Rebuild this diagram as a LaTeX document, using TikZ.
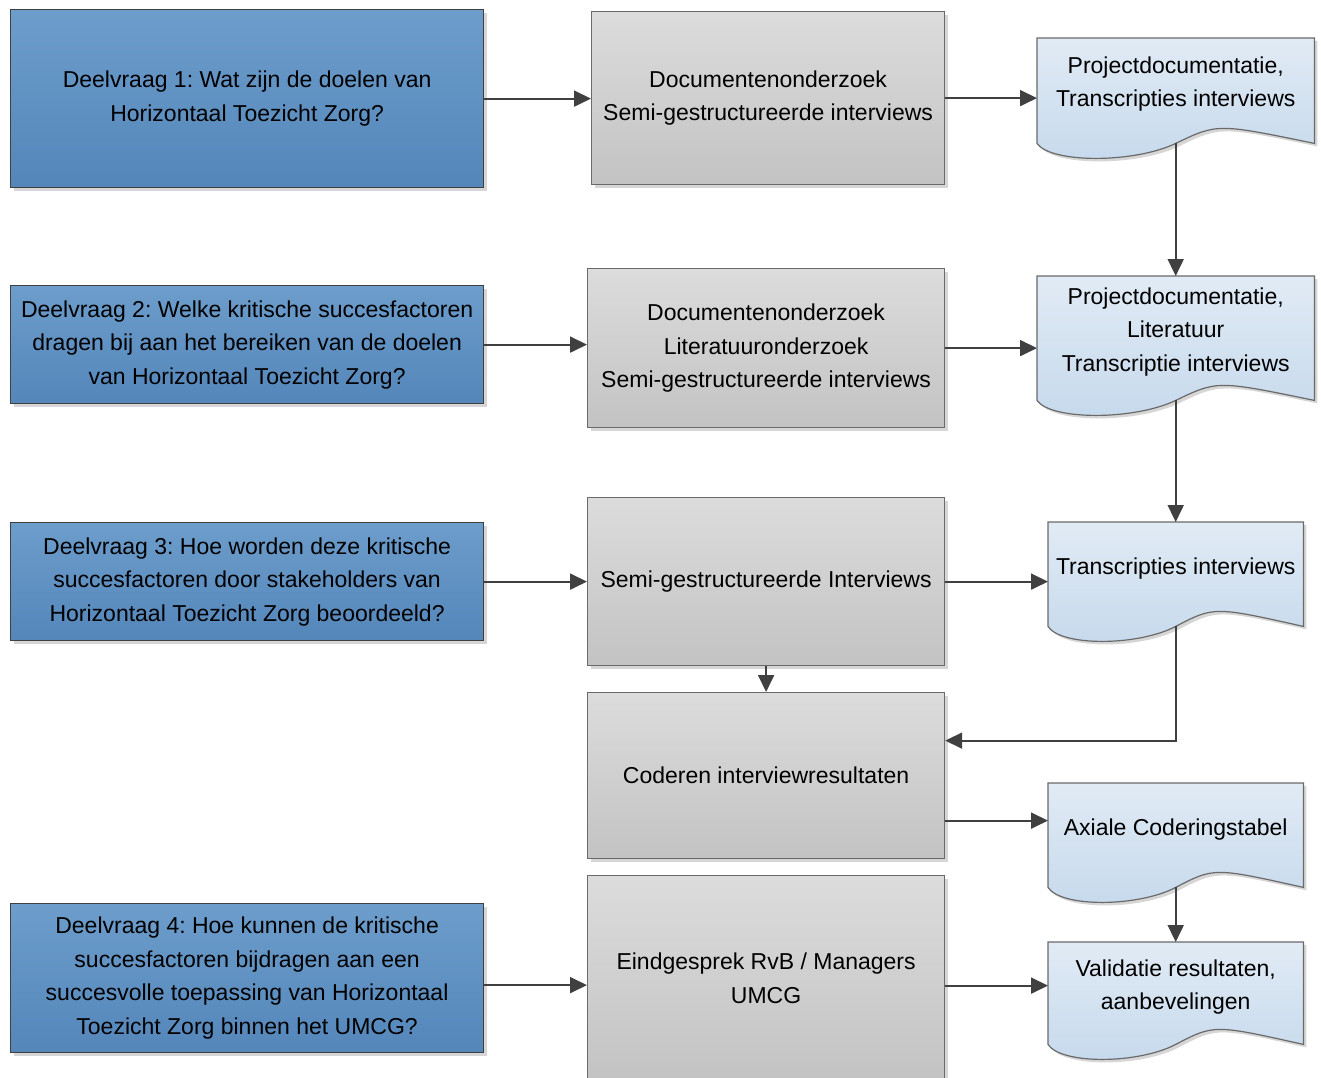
\documentclass[tikz,border=0pt]{standalone}
\usepackage{fontspec}
\setmainfont{Liberation Sans}
\frenchspacing
\usetikzlibrary{arrows.meta,calc,shadows}
\definecolor{bluetop}{HTML}{6C9DCB}
\definecolor{bluebot}{HTML}{5486BA}
\definecolor{graytop}{HTML}{DCDCDC}
\definecolor{graybot}{HTML}{C3C3C3}
\definecolor{doctop}{HTML}{E1EBF5}
\definecolor{docbot}{HTML}{C6D9EC}
\definecolor{edge}{HTML}{404040}
\definecolor{grayedge}{HTML}{6A6A6A}
\definecolor{shad}{HTML}{D6D6D6}
\tikzset{
  txt/.style={font=\fontsize{23}{33.5}\selectfont, align=center, text=black},
  box/.style={rectangle, inner sep=0pt, anchor=north west, txt,
    drop shadow={shadow xshift=3pt, shadow yshift=-3pt, fill=shad, opacity=1}},
  bluebox/.style={box, top color=bluetop, bottom color=bluebot, draw=edge, line width=1.2pt},
  graybox/.style={box, top color=graytop, bottom color=graybot, draw=grayedge, line width=1.2pt},
  docbody/.style={rectangle, inner sep=0pt, anchor=north west, draw=none},
  doctext/.style={txt, inner sep=0pt},
  docshape/.style={top color=doctop, bottom color=docbot, draw=grayedge, line width=1.2pt,
    preaction={fill=shad, transform canvas={shift={(3pt,-3pt)}}}},
  arr/.style={-{Triangle[length=17pt,width=16pt]}, draw=edge, line width=1.8pt},
}
\newcommand\docwave[1]{%
  \path[docshape] (#1.north west) -- (#1.north east) -- (#1.south east)
    .. controls ($(#1.south)!0.3!(#1.south east)+(0,-20)$) and ($(#1.south)!0.3!(#1.south east)+(0,-20)$) .. (#1.south)
    .. controls ($(#1.south)!0.3!(#1.south west)+(0,20)$) and ($(#1.south)!0.9!(#1.south west)+(0,20)$) .. (#1.south west)
    -- cycle;}
\begin{document}
\begin{tikzpicture}[x=1pt,y=-1pt]
\fill[white] (0,0) rectangle (1321,1077);
\useasboundingbox (0,0) rectangle (1321,1077);

% left question boxes
\node[bluebox, minimum width=473pt, minimum height=178pt] (b1) at (10,9)
  {Deelvraag 1: Wat zijn de doelen van\\Horizontaal Toezicht Zorg?};
\node[bluebox, minimum width=473pt, minimum height=118pt] (b2) at (10,285)
  {Deelvraag 2: Welke kritische succesfactoren\\dragen bij aan het bereiken van de doelen\\van Horizontaal Toezicht Zorg?};
\node[bluebox, minimum width=473pt, minimum height=118pt] (b3) at (10,522)
  {Deelvraag 3: Hoe worden deze kritische\\succesfactoren door stakeholders van\\Horizontaal Toezicht Zorg beoordeeld?};
\node[bluebox, minimum width=473pt, minimum height=149pt] (b4) at (10,903)
  {Deelvraag 4: Hoe kunnen de kritische\\succesfactoren bijdragen aan een\\succesvolle toepassing van Horizontaal\\Toezicht Zorg binnen het UMCG?};

% middle method boxes
\node[graybox, minimum width=353pt, minimum height=173pt] (g1) at (591,11)
  {Documentenonderzoek\\Semi-gestructureerde interviews};
\node[graybox, minimum width=357pt, minimum height=159pt] (g2) at (587,268)
  {Documentenonderzoek\\Literatuuronderzoek\\Semi-gestructureerde interviews};
\node[graybox, minimum width=357pt, minimum height=168pt] (g3) at (587,497)
  {Semi-gestructureerde Interviews};
\node[graybox, minimum width=357pt, minimum height=166pt] (g4) at (587,692)
  {Coderen interviewresultaten};
\node[graybox, minimum width=357pt, minimum height=205pt] (g5) at (587,875)
  {Eindgesprek RvB / Managers\\UMCG};

% right document shapes
\node[docbody, minimum width=277pt, minimum height=105pt] (d1) at (1037,38) {};
\node[docbody, minimum width=277pt, minimum height=124pt] (d2) at (1037,276) {};
\node[docbody, minimum width=255pt, minimum height=104pt] (d3) at (1048,522) {};
\node[docbody, minimum width=255pt, minimum height=104pt] (d4) at (1048,783) {};
\node[docbody, minimum width=255pt, minimum height=102pt] (d5) at (1048,942) {};
\docwave{d1}\docwave{d2}\docwave{d3}\docwave{d4}\docwave{d5}
\node[doctext] (d1t) at ([yshift=6.5pt]d1.center) {Projectdocumentatie,\\Transcripties interviews};
\node[doctext] (d2t) at ([yshift=6.5pt]d2.center) {Projectdocumentatie,\\Literatuur\\Transcriptie interviews};
\node[doctext] (d3t) at ([yshift=6pt]d3.center) {Transcripties interviews};
\node[doctext] (d4t) at ([yshift=6pt]d4.center) {Axiale Coderingstabel};
\node[doctext] (d5t) at ([yshift=6pt]d5.center) {Validatie resultaten,\\aanbevelingen};

% connectors
\draw[arr] (b1.east) -- (b1.east -| g1.west);
\draw[arr] (g1.east) -- (g1.east -| d1.west);
\draw[arr] (d1.south) -- (d2.north);
\draw[arr] (b2.east) -- (b2.east -| g2.west);
\draw[arr] (g2.east) -- (g2.east -| d2.west);
\draw[arr] (d2.south) -- (d3.north);
\draw[arr] (b3.east) -- (b3.east -| g3.west);
\draw[arr] (g3.east) -- (g3.east -| d3.west);
\draw[arr] (g3.south) -- (g4.north);
\draw[arr] (d3.south) |- ([yshift=35pt]g4.east);
\draw[arr] ([yshift=-45pt]g4.east) -- ([yshift=-45pt]g4.east -| d4.west);
\draw[arr] (d4.south) -- (d5.north);
\draw[arr] ([yshift=-7pt]b4.east) -- ([yshift=-7pt]b4.east -| g5.west);
\draw[arr] ([yshift=-7.5pt]g5.east) -- ([yshift=-7.5pt]g5.east -| d5.west);
\end{tikzpicture}
\end{document}
